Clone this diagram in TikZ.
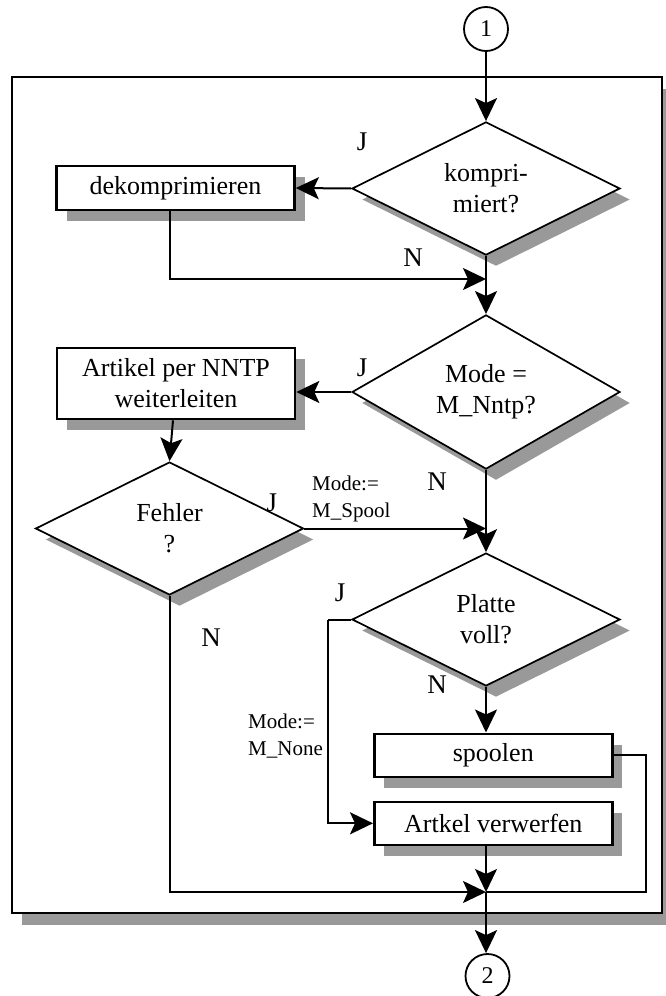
\documentclass[tikz,border=0pt]{standalone}
\usepackage{fontspec}
\setmainfont{Liberation Serif}
\usetikzlibrary{shapes.geometric,shadows,arrows.meta}
\definecolor{shadegray}{gray}{0.6}
\tikzset{
  flatshadow/.style={drop shadow={shadow xshift=10pt, shadow yshift=-11pt, fill=shadegray, opacity=1}},
  decision/.style={diamond, draw, fill=white, line width=1.7pt, minimum width=268pt,
    minimum height=133pt, inner sep=0pt, align=center,
    font=\fontsize{26}{31}\selectfont, flatshadow},
  process/.style={rectangle, draw, fill=white, line width=2.6pt, minimum width=238pt,
    inner sep=0pt, align=center, font=\fontsize{26}{31}\selectfont, flatshadow},
  joint/.style={circle, draw, fill=white, line width=1.8pt, minimum size=44pt,
    inner sep=0pt, font=\fontsize{24}{28}\selectfont},
  flow/.style={line width=2pt, -{Stealth[length=23pt, width=22pt, inset=5pt]}},
  plain/.style={line width=2pt},
  lab/.style={font=\fontsize{27}{30}\selectfont, inner sep=0pt},
  note/.style={font=\fontsize{21}{27}\selectfont, align=left, inner sep=0pt, anchor=west}
}
\begin{document}
\begin{tikzpicture}[x=1pt, y=-1pt]
\useasboundingbox (0,0) rectangle (666,996);

% enclosing frame
\node[draw, fill=white, line width=2.6pt, minimum width=650pt, minimum height=836pt,
  inner sep=0pt,
  drop shadow={shadow xshift=10pt, shadow yshift=-12pt, fill=shadegray, opacity=1}]
  (frame) at (337,495) {};

% connectors in and out
\node[joint] (c1) at (486,29) {1};
\node[joint] (c2) at (487.5,976) {2};

% decisions
\node[decision] (k) at (486,188.5) {kompri-\\miert?};
\node[decision] (m) at (486,392) {Mode =\\M\_Nntp?};
\node[decision] (f) at (169.5,528.5) {Fehler\\?};
\node[decision] (p) at (486,619.5) {Platte\\voll?};

% processes
\node[process, minimum height=44pt] (d) at (175.5,188) {dekomprimieren};
\node[process, minimum height=71pt] (a) at (176,383.5) {Artikel per NNTP\\weiterleiten};
\node[process, minimum height=43pt] (s) at (493.3,755.3) {spoolen};
\node[process, minimum height=43pt] (v) at (493.3,823.3) {Artkel verwerfen};

% junction points
\coordinate (j1) at (486,279);
\coordinate (j2) at (486,528.5);
\coordinate (j3) at (486,892);

% flow lines
\draw[flow] (c1) -- (k.north);
\draw[flow] (k.west) -- (d.east);
\draw[flow] ([xshift=-5.5pt]d.south) |- (j1);
\draw[flow] (k.south) -- (m.north);
\draw[flow] (m.west) -- (m.west -| a.east);
\draw[flow] ([xshift=-3pt]a.south) -- (f.north);
\draw[flow] (f.east) -- (j2);
\draw[flow] (m.south) -- (p.north);
\draw[plain] (p.west) -- (328,619.5) coordinate (pj);
\draw[flow] (pj) |- (v.west);
\draw[flow] (p.south) -- (s.north -| p.south);
\draw[plain] (s.east) -- (645.7,755.3) coordinate (sj) -- (sj |- j3) -- (j3);
\draw[flow] (f.south) |- (j3);
\draw[flow] (v.south -| j3) -- (j3);
\draw[flow] (j3) -- (c2.north -| j3);

% branch labels
\node[lab] at (362,142) {J};
\node[lab] at (413,258) {N};
\node[lab] at (362,368) {J};
\node[lab] at (272,503) {J};
\node[lab] at (437,482) {N};
\node[lab] at (340,593) {J};
\node[lab] at (211,638) {N};
\node[lab] at (437,685) {N};

% assignments
\node[note] at (312,498.5) {Mode:=\\M\_Spool};
\node[note] at (248,736.5) {Mode:=\\M\_None};
\end{tikzpicture}
\end{document}
